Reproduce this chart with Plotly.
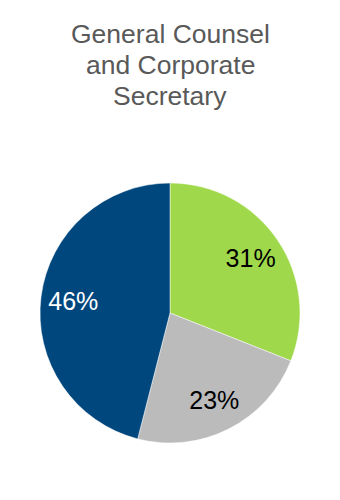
import plotly.graph_objects as go

categories = ["Segment A", "Segment B", "Segment C"]
values = [31, 23, 46]
colors = ["#9FD84B", "#BBBBBB", "#00477D"]
text_colors = ["#000000", "#000000", "#FFFFFF"]
title_lines = ["General Counsel", "and Corporate", "Secretary"]

FONT = "Liberation Sans, Arial"

# slices (no text)
fig = go.Figure(go.Pie(
    labels=categories,
    values=values,
    sort=False,
    direction="clockwise",
    rotation=0,
    marker=dict(colors=colors, line=dict(color="#FFFFFF", width=0.5)),
    textinfo="none",
    hoverinfo="skip",
    showlegend=False,
))

# labels placed further out via a transparent ring of the same data
fig.add_trace(go.Pie(
    labels=categories,
    values=values,
    sort=False,
    direction="clockwise",
    rotation=0,
    hole=0.5,
    marker=dict(colors=["rgba(0,0,0,0)"] * len(values), line=dict(width=0)),
    texttemplate="%{value}%",
    textposition="inside",
    insidetextorientation="horizontal",
    textfont=dict(family=FONT, size=25, color=text_colors),
    hoverinfo="skip",
    showlegend=False,
))

t, b, H = 183, 57, 500
plot_h = H - t - b
line_centers_px = [34, 65, 96]
annotations = [
    dict(
        text=line,
        x=0.5, xref="paper", xanchor="center",
        y=(H - b - yp) / plot_h, yref="paper", yanchor="middle",
        showarrow=False,
        font=dict(family=FONT, size=26.5, color="#595959"),
    )
    for line, yp in zip(title_lines, line_centers_px)
]

fig.update_layout(
    width=340,
    height=500,
    margin=dict(l=40, r=40, t=t, b=b),
    paper_bgcolor="#FFFFFF",
    plot_bgcolor="#FFFFFF",
    annotations=annotations,
)

fig.write_html("out.html")
